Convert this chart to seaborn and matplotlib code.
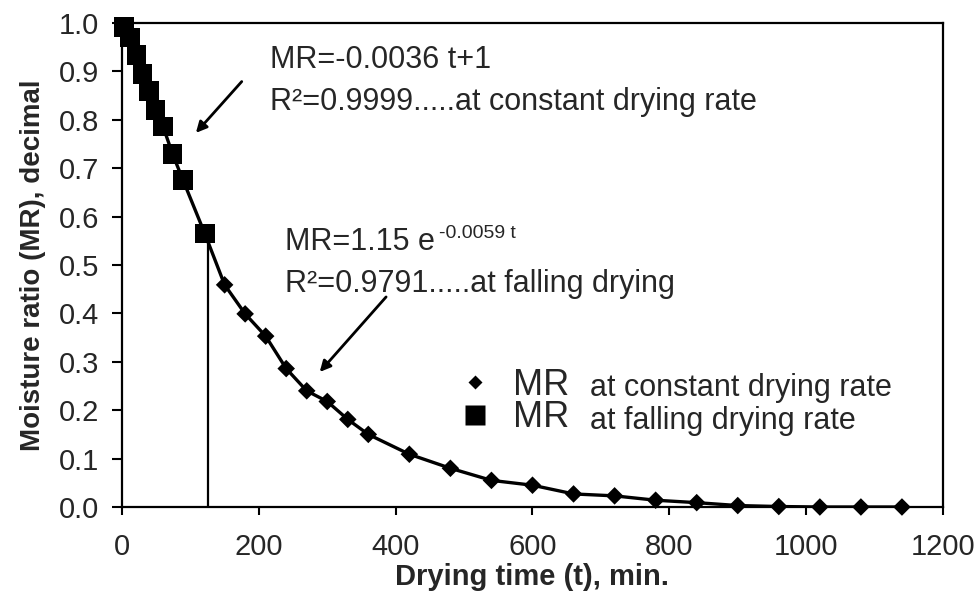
import matplotlib
matplotlib.use("Agg")
import matplotlib.pyplot as plt
from matplotlib.lines import Line2D
import seaborn as sns
import pandas as pd

# ---- data ----
square_t = [3, 12, 21, 30, 39, 49, 60, 74, 89, 121]
square_mr = [0.992, 0.970, 0.934, 0.895, 0.860, 0.820, 0.786, 0.729, 0.676, 0.565]

diamond_t = [150, 180, 210, 240, 270, 300, 330, 360, 420, 480, 540, 600, 660,
             720, 780, 840, 900, 960, 1020, 1080, 1140]
diamond_mr = [0.459, 0.399, 0.353, 0.286, 0.240, 0.218, 0.181, 0.150, 0.109,
              0.080, 0.055, 0.045, 0.027, 0.023, 0.014, 0.009, 0.003, 0.001,
              0.0, 0.0, 0.0]

boundary_t = 125
boundary_mr = 0.565

x_ticks = [0, 200, 400, 600, 800, 1000, 1200]
y_ticks = [0.0, 0.1, 0.2, 0.3, 0.4, 0.5, 0.6, 0.7, 0.8, 0.9, 1.0]

legend_labels = ["MR", "MR"]
legend_texts = ["at constant drying rate", "at falling drying rate"]

eq1 = ["MR=-0.0036 t+1", "R\u00b2=0.9999.....at constant drying rate"]
eq2 = ["MR=1.15 e", "-0.0059 t", "R\u00b2=0.9791.....at falling drying"]

# ---- styling ----
sns.set_style("ticks")
plt.rcParams["font.family"] = ["Liberation Sans", "DejaVu Sans"]

W, H = 979, 594
fig = plt.figure(figsize=(W / 100, H / 100), dpi=100)
ax = fig.add_axes([122 / W, 1 - 507 / H, 821 / W, 484 / H])

df_sq = pd.DataFrame({"t": square_t, "mr": square_mr})
df_di = pd.DataFrame({"t": diamond_t, "mr": diamond_mr})
df_all = pd.concat([df_sq, df_di], ignore_index=True)

sns.lineplot(data=df_all, x="t", y="mr", ax=ax, color="black", lw=2.4,
             sort=True, estimator=None, zorder=3)
sns.scatterplot(data=df_sq, x="t", y="mr", ax=ax, marker="s", s=200,
                color="black", edgecolor="none", linewidth=0, zorder=4,
                clip_on=False)
sns.scatterplot(data=df_di, x="t", y="mr", ax=ax, marker="D", s=80,
                color="black", edgecolor="none", linewidth=0, zorder=4,
                clip_on=False)

ax.vlines(boundary_t, 0, boundary_mr, color="black", lw=1.6, zorder=2)

ax.set_xlim(0, 1200)
ax.set_ylim(0, 1.0)
ax.set_xticks(x_ticks)
ax.set_yticks(y_ticks)
ax.set_yticklabels([f"{v:.1f}" for v in y_ticks])
ax.tick_params(axis="both", labelsize=21, color="black", width=1.5,
               direction="out")
ax.tick_params(axis="y", length=7.5, pad=9)
ax.tick_params(axis="x", length=6, pad=13)
for s in ax.spines.values():
    s.set_visible(True)
    s.set_color("black")
    s.set_linewidth(1.6)

ax.set_xlabel("Drying time (t), min.", fontsize=21, fontweight="bold",
              labelpad=1)
ax.set_ylabel("Moisture ratio (MR), decimal", fontsize=20, fontweight="bold",
              labelpad=9)

# annotations
ax.text(217, 0.906, eq1[0], fontsize=22, va="baseline", ha="left")
ax.text(217, 0.820, eq1[1], fontsize=22, va="baseline", ha="left")
t2 = ax.text(238, 0.531, eq2[0], fontsize=22, va="baseline", ha="left")
ax.annotate(eq2[1], xy=(1, 0), xycoords=t2, xytext=(3, 13.5),
            textcoords="offset points", fontsize=14, va="baseline",
            ha="left")
ax.text(238, 0.445, eq2[2], fontsize=22, va="baseline", ha="left")

arrow = dict(arrowstyle="-|>", color="black", lw=2, mutation_scale=16,
             shrinkA=0, shrinkB=0)
ax.annotate("", xy=(108, 0.773), xytext=(175, 0.879), arrowprops=arrow)
ax.annotate("", xy=(289, 0.279), xytext=(386, 0.434), arrowprops=arrow)

# legend
handles = [Line2D([], [], ls="none", marker="D", ms=7.5, color="black",
                  mec="none"),
           Line2D([], [], ls="none", marker="s", ms=14, color="black",
                  mec="none")]
leg = ax.legend(handles, legend_labels, loc="upper left",
                bbox_to_anchor=(457 / W, 1 - 368 / H),
                bbox_transform=fig.transFigure, frameon=False, fontsize=26,
                handlelength=1.0, handletextpad=0.55, labelspacing=-0.07,
                borderpad=0, borderaxespad=0)
fig.text(590 / W, 1 - 396 / H, legend_texts[0], fontsize=22, va="baseline")
fig.text(590 / W, 1 - 429 / H, legend_texts[1], fontsize=22, va="baseline")

fig.savefig("out.png", dpi=100)
